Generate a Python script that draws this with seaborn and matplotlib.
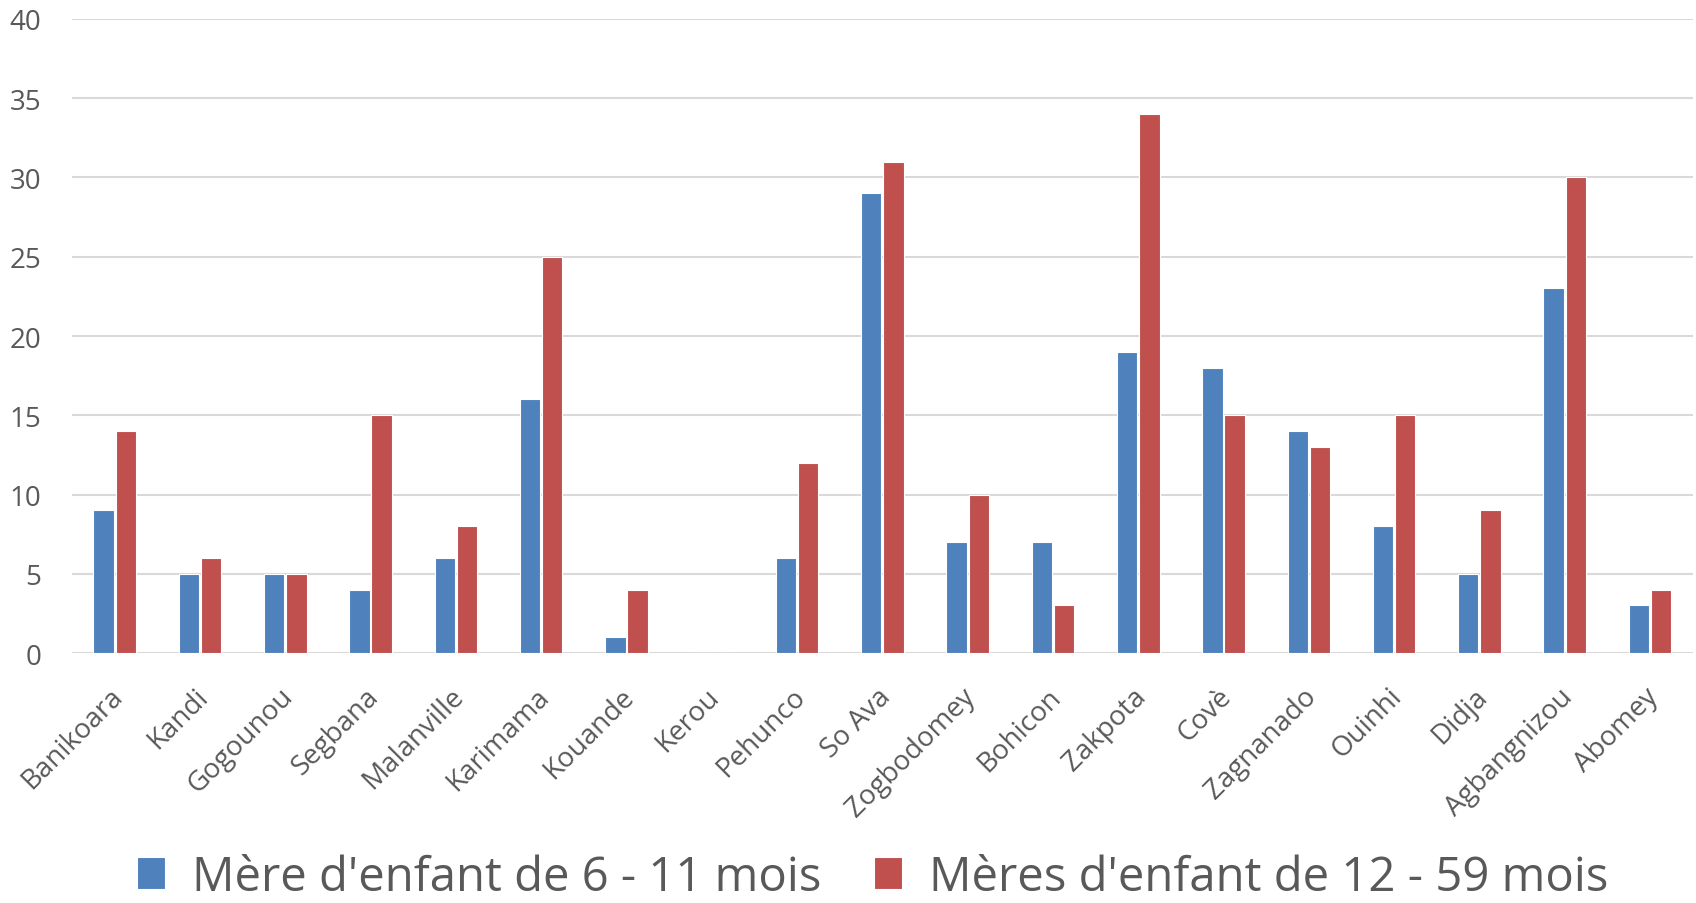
import numpy as np
import pandas as pd
import matplotlib
matplotlib.use("Agg")
import matplotlib.pyplot as plt
import matplotlib.transforms as mtransforms
import seaborn as sns

communes = ["Banikoara", "Kandi", "Gogounou", "Segbana", "Malanville", "Karimama",
            "Kouande", "Kerou", "Pehunco", "So Ava", "Zogbodomey", "Bohicon",
            "Zakpota", "Covè", "Zagnanado", "Ouinhi", "Didja", "Agbangnizou", "Abomey"]
meres_6_11 = [9, 5, 5, 4, 6, 16, 1, 0, 6, 29, 7, 7, 19, 18, 14, 8, 5, 23, 3]
meres_12_59 = [14, 6, 5, 15, 8, 25, 4, 0, 12, 31, 10, 3, 34, 15, 13, 15, 9, 30, 4]
series = ["Mère d'enfant de 6 - 11 mois", "Mères d'enfant de 12 - 59 mois"]
colors = ["#4F81BD", "#C0504D"]

df = pd.DataFrame({
    "commune": communes * 2,
    "valeur": meres_6_11 + meres_12_59,
    "serie": [series[0]] * len(communes) + [series[1]] * len(communes),
})

sns.set_style("white")
plt.rcParams['font.family'] = ['Open Sans', 'DejaVu Sans']

fig = plt.figure(figsize=(16.96, 9.04), dpi=100)
ax = fig.add_axes([0.0425, 0.2765, 0.9555, 0.7014])

sns.barplot(data=df, x="commune", y="valeur", hue="serie", palette=colors,
            width=0.52, gap=0.08, edgecolor="white", linewidth=0.8,
            saturation=1, ax=ax, zorder=3)

ax.set_ylim(0, 40)
ax.set_xlim(-0.5, len(communes) - 0.5)
ax.set_yticks(range(0, 41, 5))
ax.yaxis.grid(True, color="#D9D9D9", linewidth=1.5, zorder=0)
ax.set_axisbelow(True)
for s in ax.spines.values():
    s.set_visible(False)
ax.set_xlabel("")
ax.set_ylabel("")
ax.tick_params(axis='y', labelsize=20, labelcolor="#595959", length=0, pad=22)
ax.tick_params(axis='x', labelsize=20, labelcolor="#595959", length=0, pad=21)
shift = mtransforms.ScaledTranslation(-0.06, 0, fig.dpi_scale_trans)
for lab in ax.get_xticklabels():
    lab.set_rotation(45)
    lab.set_ha("right")
    lab.set_rotation_mode("anchor")
    lab.set_transform(lab.get_transform() + shift)

ax.legend(loc="center", bbox_to_anchor=(0.494, -0.353), ncol=2, frameon=False,
          fontsize=34, labelcolor="#595959", handlelength=0.6, handleheight=0.66,
          handletextpad=0.57, columnspacing=1.1)

plt.savefig("out.png", dpi=100)
